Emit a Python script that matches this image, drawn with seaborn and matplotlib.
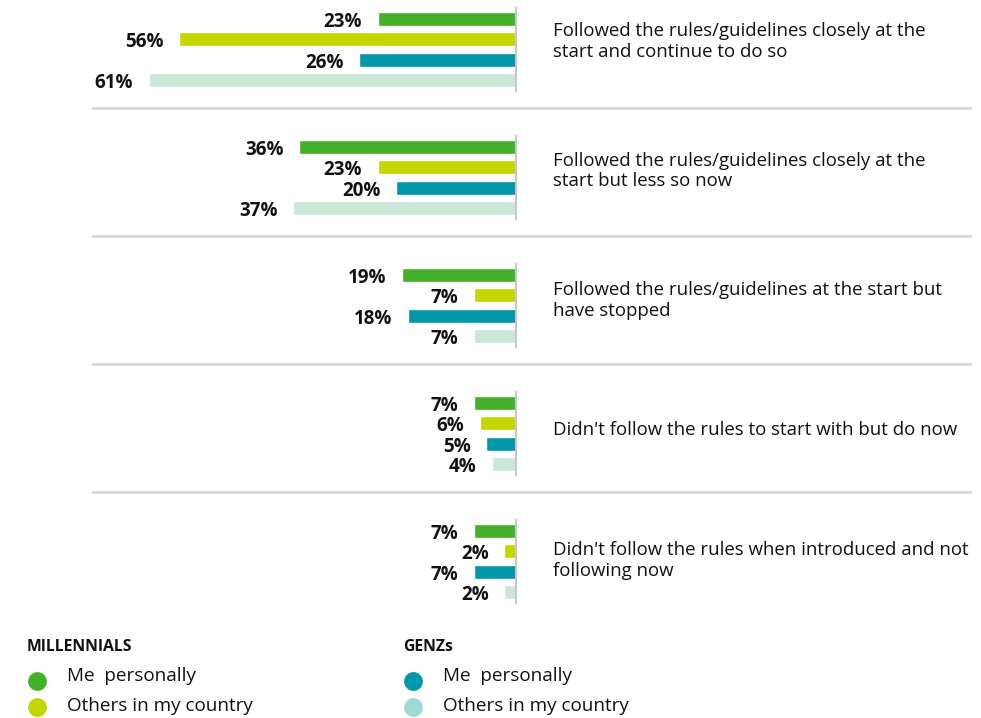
import pandas as pd
import matplotlib.pyplot as plt
from matplotlib.lines import Line2D
import seaborn as sns

# data
categories = [
    "Followed the rules/guidelines closely at the\nstart and continue to do so",
    "Followed the rules/guidelines closely at the\nstart but less so now",
    "Followed the rules/guidelines at the start but\nhave stopped",
    "Didn't follow the rules to start with but do now",
    "Didn't follow the rules when introduced and not\nfollowing now",
]
series = ["Millennials - Me personally", "Millennials - Others in my country",
          "GenZs - Me personally", "GenZs - Others in my country"]
mill_me = [23, 36, 19, 7, 7]
mill_others = [56, 23, 7, 6, 2]
genz_me = [26, 20, 18, 5, 7]
genz_others = [61, 37, 7, 4, 2]

bar_colors = ["#43b02a", "#c4d600", "#0097a9", "#c9e6d7"]
legend_colors = ["#43b02a", "#c4d600", "#0097a9", "#a0d8d3"]
legend_groups = ["MILLENNIALS", "GENZs"]
legend_items = ["Me  personally", "Others in my country"]

rows = []
for name, vals in zip(series, [mill_me, mill_others, genz_me, genz_others]):
    for cat, v in zip(categories, vals):
        rows.append({"category": cat, "series": name, "value": v})
df = pd.DataFrame(rows)

sns.set_theme(style="white")
plt.rcParams["font.family"] = ["Open Sans", "DejaVu Sans"]

fig = plt.figure(figsize=(9.81, 7.18), dpi=100)
ax = fig.add_axes([92 / 981, 1 - 620 / 718, 880 / 981, 620 / 718])

sns.barplot(data=df, y="category", x="value", hue="series", orient="h",
            order=categories, hue_order=series, palette=bar_colors,
            saturation=1, width=0.64, gap=0.3, legend=False, ax=ax)

ax.set_xlim(70.4, -75.7)
ax.set_ylim(4.457, -0.387)

for c in ax.containers:
    anns = ax.bar_label(c, fmt="%g%%", padding=11, fontsize=13.5,
                        fontweight="bold", color="#111111")
    for a in anns:
        # labels sit a touch below the bar centre in the original
        a.xyann = (a.xyann[0], -2.2)

# zero line per group and separators
text_shift = [-8, -6.5, -5, -3.5, -1]  # px, label block vs group centre
for i in range(len(categories)):
    ax.vlines(0, i - 0.33, i + 0.33, color="#c8c8c8", lw=1.5, zorder=3)
    ax.text(-6.1, i + text_shift[i] / 128, categories[i], ha="left", va="center",
            fontsize=13.4, color="#111111", linespacing=1.15)
    if i < len(categories) - 1:
        ax.axhline(i + 0.46, color="#d4d4d4", lw=1.8)

ax.set_xlabel("")
ax.set_ylabel("")
ax.set_xticks([])
ax.set_yticks([])
sns.despine(ax=ax, left=True, bottom=True)

# custom legend
text_y = [676, 706]
marker_y = [681, 707]
for g, (gname, gx) in enumerate(zip(legend_groups, [27, 403])):
    fig.text(gx / 981, 1 - 647 / 718, gname, fontsize=11.3, fontweight="bold",
             va="center", ha="left", color="#111111")
    for k, item in enumerate(legend_items):
        fig.add_artist(Line2D([(gx + 10) / 981], [1 - marker_y[k] / 718],
                              marker="o", ms=12.5, color=legend_colors[2 * g + k],
                              lw=0, transform=fig.transFigure))
        fig.text((gx + 40) / 981, 1 - text_y[k] / 718, item, fontsize=13.6,
                 va="center", ha="left", color="#111111")

fig.savefig("out.png", dpi=100)
